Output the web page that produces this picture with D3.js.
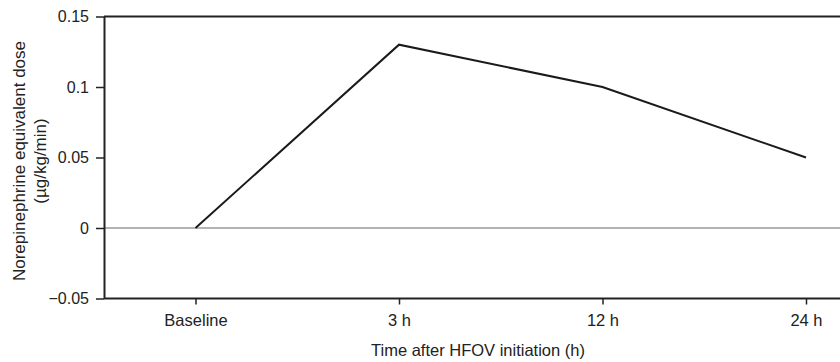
<!DOCTYPE html>
<html><head><meta charset="utf-8">
<script src="https://cdn.jsdelivr.net/npm/d3@7"></script>
<style>body{margin:0;background:#fff}svg{display:block}text{font-family:"Liberation Sans",Arial,sans-serif;fill:#222}</style>
</head><body>
<svg id="c" width="840" height="362"></svg>
<script>
const categories = ["Baseline", "3 h", "12 h", "24 h"];
const doseValues = [0, 0.13, 0.1, 0.05];
const yTicks = [-0.05, 0, 0.05, 0.1, 0.15];
const yTickLabels = ["\u22120.05", "0", "0.05", "0.1", "0.15"];

(function () {
const svg = d3.select("#c");
const mLeft = 104, mRight = 840, mTop = 16.5, mBottom = 298.5;
const x = d3.scalePoint().domain(categories).range([195.5, 806]).padding(0);
const y = d3.scaleLinear().domain([-0.05, 0.15]).range([mBottom, mTop]);
const FF = '"Liberation Sans",Arial,sans-serif';

// zero line
svg.append("line").attr("x1", mLeft).attr("x2", mRight).attr("y1", y(0)).attr("y2", y(0))
  .attr("stroke", "#9a9a9a").attr("stroke-width", 1.5);

// top border
svg.append("line").attr("x1", mLeft).attr("x2", mRight).attr("y1", mTop).attr("y2", mTop)
  .attr("stroke", "#222").attr("stroke-width", 2);

const yAxis = svg.append("g").attr("transform", `translate(${mLeft},0)`)
  .call(d3.axisLeft(y).tickValues(yTicks).tickSize(8).tickSizeOuter(0).tickPadding(7)
    .tickFormat((d, i) => yTickLabels[i]));
yAxis.select(".domain").attr("stroke", "#222").attr("stroke-width", 2);
yAxis.selectAll(".tick line").attr("stroke", "#222").attr("stroke-width", 1.5);
yAxis.selectAll("text").style("font-size", "16px").style("font-family", FF).attr("fill", "#222");

const xAxis = svg.append("g").attr("transform", `translate(0,${mBottom})`)
  .call(d3.axisBottom(x).tickSize(6).tickSizeOuter(0).tickPadding(10));
xAxis.select(".domain").attr("stroke", "#222").attr("stroke-width", 2)
  .attr("d", `M${mLeft},0H${mRight}`);
xAxis.selectAll(".tick line").attr("stroke", "#222").attr("stroke-width", 1.5);
xAxis.selectAll("text").style("font-size", "16.5px").style("font-family", FF).attr("fill", "#222");

// data line
const line = d3.line().x((d, i) => x(categories[i])).y(d => y(d));
svg.append("path").datum(doseValues).attr("d", line)
  .attr("fill", "none").attr("stroke", "#1a1a1a").attr("stroke-width", 2);

// titles
svg.append("text").attr("x", 478).attr("y", 356).attr("text-anchor", "middle")
  .style("font-size", "16.5px").text("Time after HFOV initiation (h)");
const yt = svg.append("text").attr("transform", `translate(0,161) rotate(-90)`)
  .attr("text-anchor", "middle").style("font-size", "17px");
yt.append("tspan").attr("x", 0).attr("y", 25).text("Norepinephrine equivalent dose");
yt.append("tspan").attr("x", 0).attr("y", 46).text("(\u00b5g/kg/min)");
})();
</script>
</body></html>
